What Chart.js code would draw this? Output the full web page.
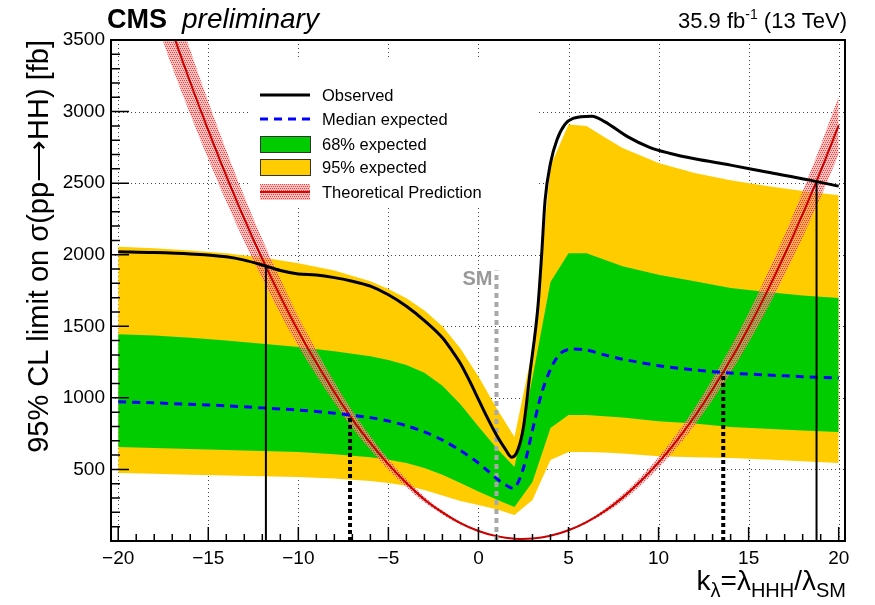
<!DOCTYPE html>
<html>
<head>
<meta charset="utf-8">
<script src="https://cdn.jsdelivr.net/npm/chart.js@4.4.1/dist/chart.umd.min.js"></script>
<style>
  html, body { margin: 0; padding: 0; background: #fff; }
</style>
</head>
<body>
<canvas id="c" width="875" height="605"></canvas>
<script>
// ---- data ----
const kBand = [-20, -18, -16, -14, -12, -10, -8, -6, -5, -4, -3, -2, -1, 0, 1, 2, 3, 4, 5, 6, 7, 8, 10, 12, 14, 16, 18, 20];
const yellowUp = [2055, 2045, 2030, 2010, 1980, 1940, 1890, 1815, 1760, 1695, 1610, 1500, 1345, 1150, 930, 726, 1334, 2620, 2910, 2900, 2820, 2745, 2640, 2570, 2521, 2480, 2445, 2416];
const greenUp = [1445, 1435, 1420, 1400, 1378, 1355, 1325, 1290, 1265, 1230, 1175, 1085, 955, 800, 650, 517, 1140, 1809, 2011, 2011, 1965, 1920, 1860, 1815, 1767, 1740, 1715, 1697];
const greenDown = [657, 650, 642, 635, 628, 622, 606, 585, 568, 545, 510, 462, 405, 345, 290, 237, 412, 789, 880, 880, 872, 862, 836, 820, 796, 785, 772, 761];
const yellowDown = [475, 470, 463, 457, 452, 447, 436, 420, 406, 386, 357, 318, 280, 252, 222, 182, 286, 566, 622, 622, 618, 612, 592, 585, 580, 570, 558, 545];

const kMed = [-20, -18, -16, -14, -12, -10, -8, -6, -5, -4, -3, -2, -1, 0, 0.5, 1, 1.5, 2, 2.5, 3, 3.5, 4, 4.5, 5, 6, 7, 8, 10, 12, 14, 16, 18, 20];
const median = [972, 965, 955, 945, 930, 915, 893, 862, 838, 805, 762, 705, 632, 545, 492, 437, 392, 370, 510, 775, 1030, 1200, 1305, 1338, 1334, 1300, 1270, 1225, 1195, 1173, 1160, 1148, 1138];

const kObs = [-20, -18, -16, -14, -13, -12, -11, -10, -9, -8, -7, -6, -5, -4, -3, -2, -1.5, -1, -0.5, 0, 0.5, 1, 1.5, 1.85, 2.2, 2.5, 2.86, 3.3, 3.5, 3.7, 4, 4.35, 4.8, 5.25, 6.3, 7, 8.3, 9.5, 10.6, 12, 14, 16, 18.4, 20];
const observed = [2020, 2015, 2005, 1985, 1962, 1928, 1890, 1866, 1858, 1840, 1815, 1780, 1720, 1640, 1540, 1420, 1335, 1240, 1120, 990, 860, 740, 640, 585, 640, 796, 1173, 1634, 1983, 2381, 2640, 2800, 2910, 2952, 2968, 2930, 2823, 2750, 2709, 2670, 2626, 2578, 2521, 2479];

const kTh = [-18, -17, -16, -15, -14, -13, -12, -11, -10, -9, -8, -7, -6, -5, -4, -3, -2, -1, 0, 1, 2, 3, 4, 5, 6, 7, 8, 9, 10, 11, 12, 13, 14, 15, 16, 17, 18, 19, 20];
const theory = [3940, 3560, 3205, 2870, 2550, 2250, 1970, 1710, 1465, 1245, 1040, 850, 685, 535, 405, 290, 200, 125, 70, 34, 16, 17, 37, 75, 132, 208, 303, 417, 549, 700, 870, 1060, 1266, 1490, 1737, 2000, 2283, 2584, 2904];
const theoryUp = [4216, 3809, 3429, 3071, 2729, 2408, 2108, 1830, 1568, 1332, 1113, 910, 733, 572, 433, 310, 214, 134, 75, 36, 17, 18, 40, 80, 141, 223, 324, 446, 587, 749, 931, 1134, 1355, 1594, 1859, 2140, 2443, 2765, 3107];
const theoryDown = [3664, 3311, 2981, 2669, 2372, 2093, 1832, 1590, 1362, 1158, 967, 791, 637, 498, 377, 270, 186, 116, 65, 32, 15, 16, 34, 70, 123, 193, 282, 388, 511, 651, 809, 986, 1177, 1386, 1615, 1860, 2123, 2403, 2701];

// excluded kappa_lambda limits (where the limit meets the prediction)
const kObsCross = [-11.8, 18.77];
const obsCross = [1915, 2521];
const kExpCross = [-7.13, 13.59];
const expCross = [875, 1177];
const kSM = 1;
const smTop = 1890;

const xTicks = [-20, -15, -10, -5, 0, 5, 10, 15, 20];
const yTicks = [500, 1000, 1500, 2000, 2500, 3000, 3500];

const FONT = '"Liberation Sans", Arial, Helvetica, sans-serif';

const pts = (xs, ys) => xs.map((x, i) => ({ x, y: ys[i] }));
const vline = (x, top) => [{ x, y: 0 }, { x, y: top }];

const canvas = document.getElementById('c');
const ctx0 = canvas.getContext('2d');

function makeHatch() {
  const c = document.createElement('canvas');
  c.width = 4; c.height = 4;
  const g = c.getContext('2d');
  g.fillStyle = 'rgba(255,150,150,0.6)';
  g.fillRect(0, 0, 4, 4);
  g.fillStyle = 'rgba(235,20,20,0.75)';
  g.fillRect(0, 0, 1, 1); g.fillRect(2, 0, 1, 1);
  g.fillRect(1, 2, 1, 1); g.fillRect(3, 2, 1, 1);
  return ctx0.createPattern(c, 'repeat');
}
const hatch = makeHatch();

const base = { pointRadius: 0, borderWidth: 0, borderColor: 'rgba(0,0,0,0)', fill: false, tension: 0 };

const datasets = [
  { ...base, label: '95% up', data: pts(kBand, yellowUp), fill: { target: 1 }, backgroundColor: '#ffcc00', order: 10 },
  { ...base, label: '95% down', data: pts(kBand, yellowDown), order: 10 },
  { ...base, label: '68% up', data: pts(kBand, greenUp), fill: { target: 3 }, backgroundColor: '#00cc00', order: 9 },
  { ...base, label: '68% down', data: pts(kBand, greenDown), order: 9 },
  { ...base, label: 'theory up', data: pts(kTh, theoryUp), fill: { target: 5 }, backgroundColor: hatch, tension: 0.4, order: 6 },
  { ...base, label: 'theory down', data: pts(kTh, theoryDown), tension: 0.4, order: 6 },
  { ...base, label: 'Theoretical Prediction', data: pts(kTh, theory), borderColor: '#c80000', borderWidth: 2, tension: 0.4, order: 5 },
  { ...base, label: 'Median expected', data: pts(kMed, median), borderColor: '#0000ff', borderWidth: 3, borderDash: [8, 6], tension: 0.3, order: 3 },
  { ...base, label: 'Observed', data: pts(kObs, observed), borderColor: '#000', borderWidth: 3, cubicInterpolationMode: 'monotone', order: 2 },
  { ...base, data: vline(kObsCross[0], obsCross[0]), borderColor: '#000', borderWidth: 2, order: 1 },
  { ...base, data: vline(kObsCross[1], obsCross[1]), borderColor: '#000', borderWidth: 2, order: 1 },
  { ...base, data: vline(kExpCross[0], expCross[0]), borderColor: '#000', borderWidth: 4, borderDash: [4, 3], order: 1 },
  { ...base, data: vline(kExpCross[1], expCross[1]), borderColor: '#000', borderWidth: 4, borderDash: [4, 3], order: 1 },
  { ...base, data: vline(kSM, smTop), borderColor: '#a8a8a8', borderWidth: 4, borderDash: [5, 4], order: 4 }
];

function fmt(v) { return v < 0 ? '\u2212' + Math.abs(v) : String(v); }

const decor = {
  id: 'decor',
  beforeDatasetsDraw(chart) {
    const { ctx, chartArea: a, scales: { x, y } } = chart;
    ctx.save();
    ctx.strokeStyle = '#444';
    ctx.lineWidth = 1;
    ctx.setLineDash([1, 3]);
    xTicks.forEach(v => {
      const px = Math.round(x.getPixelForValue(v)) + 0.5;
      ctx.beginPath(); ctx.moveTo(px, a.top); ctx.lineTo(px, a.bottom); ctx.stroke();
    });
    yTicks.forEach(v => {
      const py = Math.round(y.getPixelForValue(v)) + 0.5;
      ctx.beginPath(); ctx.moveTo(a.left, py); ctx.lineTo(a.right, py); ctx.stroke();
    });
    ctx.setLineDash([]);
    // legend background
    ctx.fillStyle = '#fff';
    ctx.fillRect(250, 57, 287, 148);
    ctx.restore();
  },
  afterDraw(chart) {
    const { ctx, chartArea: a, scales: { x, y } } = chart;
    ctx.save();
    // frame
    ctx.strokeStyle = '#000';
    ctx.lineWidth = 2;
    ctx.strokeRect(a.left, a.top, a.right - a.left, a.bottom - a.top);
    // ticks
    ctx.lineWidth = 1.5;
    ctx.beginPath();
    for (let v = -20; v <= 20; v++) {
      const px = x.getPixelForValue(v);
      const len = v % 5 === 0 ? 14 : 7;
      ctx.moveTo(px, a.bottom); ctx.lineTo(px, a.bottom - len);
    }
    for (let v = 0; v <= 3500; v += 100) {
      const py = y.getPixelForValue(v);
      const len = v % 500 === 0 ? 18 : 9;
      ctx.moveTo(a.left, py); ctx.lineTo(a.left + len, py);
    }
    ctx.stroke();

    // SM label
    ctx.fillStyle = '#999';
    ctx.font = 'bold 20px ' + FONT;
    ctx.textAlign = 'right';
    ctx.textBaseline = 'alphabetic';
    ctx.fillText('SM', x.getPixelForValue(kSM) - 4, y.getPixelForValue(1790));

    // legend entries
    ctx.font = '16.5px ' + FONT;
    ctx.textAlign = 'left';
    ctx.textBaseline = 'middle';
    const rows = [95, 119, 144, 167, 192];
    const names = ['Observed', 'Median expected', '68% expected', '95% expected', 'Theoretical Prediction'];
    ctx.fillStyle = '#000';
    names.forEach((n, i) => ctx.fillText(n, 322, rows[i] + 1));
    ctx.lineWidth = 3;
    ctx.strokeStyle = '#000';
    ctx.beginPath(); ctx.moveTo(260, rows[0]); ctx.lineTo(310, rows[0]); ctx.stroke();
    ctx.strokeStyle = '#0000ff';
    ctx.setLineDash([8, 6]);
    ctx.beginPath(); ctx.moveTo(260, rows[1]); ctx.lineTo(312, rows[1]); ctx.stroke();
    ctx.setLineDash([]);
    ctx.lineWidth = 1;
    ctx.strokeStyle = '#333';
    ctx.fillStyle = '#00cc00';
    ctx.fillRect(260, rows[2] - 8, 50, 16); ctx.strokeRect(260.5, rows[2] - 7.5, 50, 16);
    ctx.fillStyle = '#ffcc00';
    ctx.fillRect(260, rows[3] - 8, 50, 16); ctx.strokeRect(260.5, rows[3] - 7.5, 50, 16);
    ctx.fillStyle = hatch;
    ctx.fillRect(260, rows[4] - 8, 50, 16);
    ctx.strokeStyle = '#e00000';
    ctx.lineWidth = 2;
    ctx.beginPath(); ctx.moveTo(260, rows[4]); ctx.lineTo(310, rows[4]); ctx.stroke();

    // header
    ctx.fillStyle = '#000';
    ctx.textBaseline = 'alphabetic';
    ctx.textAlign = 'left';
    ctx.font = 'bold 27px ' + FONT;
    ctx.fillText('CMS', 107, 28);
    ctx.font = 'italic 28px ' + FONT;
    ctx.fillText('preliminary', 182, 28);

    ctx.font = '22px ' + FONT;
    const t1 = '35.9 fb', t2 = '-1', t3 = ' (13 TeV)';
    const w3 = ctx.measureText(t3).width;
    ctx.font = '14px ' + FONT;
    const w2 = ctx.measureText(t2).width;
    ctx.font = '22px ' + FONT;
    const w1 = ctx.measureText(t1).width;
    const xr = 847 - w3 - w2 - w1;
    ctx.fillText(t1, xr, 28);
    ctx.font = '14px ' + FONT;
    ctx.fillText(t2, xr + w1, 19);
    ctx.font = '22px ' + FONT;
    ctx.fillText(t3, xr + w1 + w2, 28);

    // x title: k_λ = λ_HHH / λ_SM
    const parts = [['k', 0], ['\u03bb', 1], ['=\u03bb', 0], ['HHH', 1], ['/\u03bb', 0], ['SM', 1]];
    const big = '28px ' + FONT, small = '20px ' + FONT;
    let total = 0;
    parts.forEach(([s, sub]) => { ctx.font = sub ? small : big; total += ctx.measureText(s).width; });
    let cx = 846 - total;
    parts.forEach(([s, sub]) => {
      ctx.font = sub ? small : big;
      ctx.fillText(s, cx, sub ? 597 : 590);
      cx += ctx.measureText(s).width;
    });

    // y title
    ctx.translate(48, 40);
    ctx.rotate(-Math.PI / 2);
    ctx.textAlign = 'right';
    ctx.font = '29px ' + FONT;
    ctx.fillText('95% CL limit on \u03c3(pp\u27f6HH) [fb]', 0, 0);
    ctx.restore();
  }
};

new Chart(canvas, {
  type: 'line',
  data: { datasets },
  options: {
    responsive: false,
    animation: false,
    layout: { padding: { left: 0, right: 30, top: 40, bottom: 0 } },
    plugins: { legend: { display: false }, tooltip: { enabled: false }, filler: { propagate: false } },
    scales: {
      x: {
        type: 'linear', min: -20.4, max: 20.35,
        afterBuildTicks: s => { s.ticks = xTicks.map(v => ({ value: v })); },
        afterFit: s => { s.height = 64; },
        grid: { display: false, drawTicks: false },
        border: { display: false },
        ticks: { color: '#000', padding: 6, font: { family: FONT, size: 19 }, callback: v => fmt(v), maxRotation: 0, autoSkip: false }
      },
      y: {
        type: 'linear', min: 0, max: 3500,
        afterBuildTicks: s => { s.ticks = yTicks.map(v => ({ value: v })); },
        afterFit: s => { s.width = 111; },
        grid: { display: false, drawTicks: false },
        border: { display: false },
        ticks: { color: '#000', padding: 6, font: { family: FONT, size: 19 }, callback: v => String(v) }
      }
    }
  },
  plugins: [decor]
});
</script>
</body>
</html>
